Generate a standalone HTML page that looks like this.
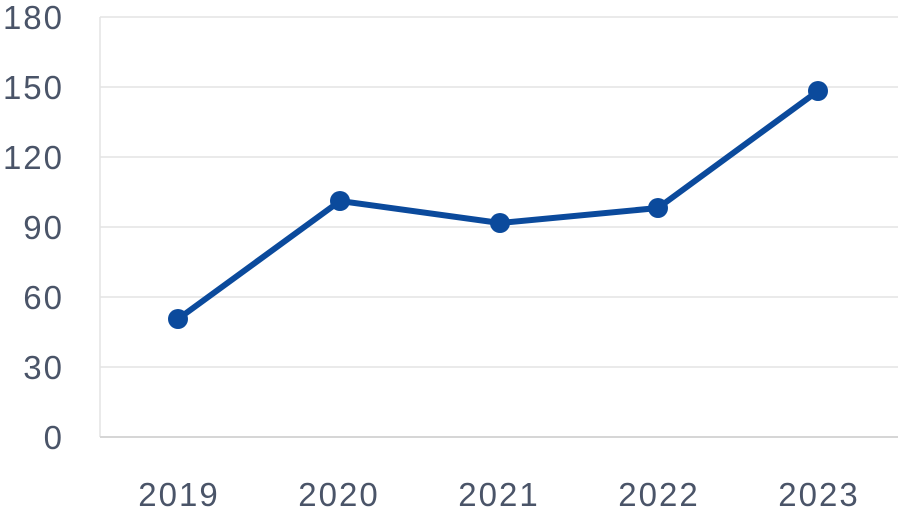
<!DOCTYPE html>
<html><head><style>body{margin:0;background:#fff}svg{display:block}</style></head><body>
<svg width="900" height="511" xmlns="http://www.w3.org/2000/svg" font-family="Liberation Sans, sans-serif">
<g stroke="#e3e3e3" stroke-width="1.5">
<line x1="100" y1="17" x2="898" y2="17"/><line x1="100" y1="87" x2="898" y2="87"/><line x1="100" y1="157" x2="898" y2="157"/><line x1="100" y1="227" x2="898" y2="227"/><line x1="100" y1="297" x2="898" y2="297"/><line x1="100" y1="367" x2="898" y2="367"/>
<line x1="100" y1="17" x2="100" y2="437"/>
</g>
<line x1="100" y1="437" x2="898" y2="437" stroke="#d6d6d6" stroke-width="2"/>
<g fill="#4a5468" font-size="33" letter-spacing="2" text-anchor="end">
<text x="64" y="29">180</text><text x="64" y="99">150</text><text x="64" y="169">120</text><text x="64" y="239">90</text><text x="64" y="309">60</text><text x="64" y="379">30</text><text x="64" y="449">0</text>
</g>
<g fill="#4a5468" font-size="33" letter-spacing="2" text-anchor="middle">
<text x="179" y="506">2019</text><text x="339" y="506">2020</text><text x="499" y="506">2021</text><text x="659" y="506">2022</text><text x="819" y="506">2023</text>
</g>
<polyline points="178,319 340,201 500,223 658,208 818,91" fill="none" stroke="#0b4a9c" stroke-width="6" stroke-linejoin="round"/>
<g fill="#0b4a9c"><circle cx="178" cy="319" r="10"/><circle cx="340" cy="201" r="10"/><circle cx="500" cy="223" r="10"/><circle cx="658" cy="208" r="10"/><circle cx="818" cy="91" r="10"/></g>
</svg>
</body></html>
